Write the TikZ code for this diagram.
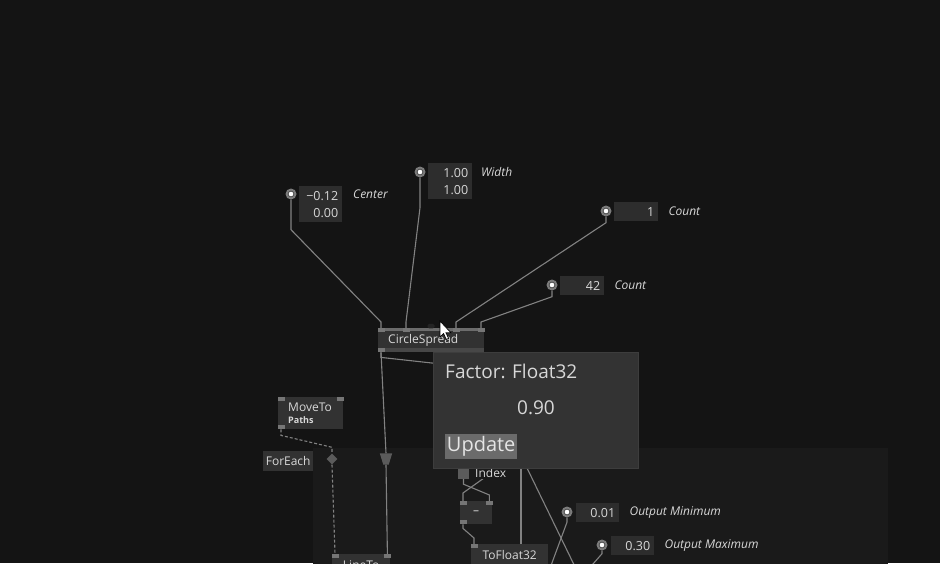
\documentclass[tikz,border=0pt]{standalone}
\usepackage{fontspec}
\setmainfont{Open Sans}
\usetikzlibrary{shapes.geometric,positioning}
\definecolor{bgc}{HTML}{141414}
\definecolor{regc}{HTML}{1A1A1A}
\definecolor{boxc}{HTML}{323232}
\definecolor{stripc}{HTML}{474747}
\definecolor{valc}{HTML}{2D2D2D}
\definecolor{wirec}{HTML}{828282}
\definecolor{portc}{HTML}{767676}
\definecolor{pinc}{HTML}{7C7C7C}
\definecolor{txtc}{HTML}{D8D8D8}
\definecolor{tipc}{HTML}{333333}
\definecolor{tipb}{HTML}{3D3D3D}
\definecolor{btnc}{HTML}{6B6B6B}
\pgfdeclarelayer{back}
\pgfdeclarelayer{wires}
\pgfsetlayers{back,wires,main}

\begin{document}
\begin{tikzpicture}[x=1pt,y=-1pt,
    every node/.style={text=txtc,font=\fontsize{12}{14}\selectfont},
    opbox/.style={rectangle,fill=boxc,inner sep=0,align=left},
    valbox/.style={rectangle,fill=valc,inner xsep=4,inner ysep=0,align=right,
        anchor=north west,font=\fontsize{12.5}{17}\selectfont},
    inpin/.style={circle,fill=pinc,minimum size=11,inner sep=0,
        path picture={\fill[black!70] (path picture bounding box.center) circle (3.3pt);
                      \fill[white] (path picture bounding box.center) circle (2.3pt);}},
    lbl/.style={anchor=west,inner sep=0,font=\fontsize{12}{14}\selectfont\itshape},
    port/.style={rectangle,fill=portc,minimum width=7,minimum height=4,inner sep=0},
    wire/.style={draw=wirec,line width=1.1},
    dwire/.style={wire,dash pattern=on 3pt off 2pt}]
    \useasboundingbox (0,0) rectangle (940,563);
    \begin{pgfonlayer}{back}
        \fill[bgc] (0,0) rectangle (940,563);
        \fill[regc] (313,448) rectangle (888,575);
    \end{pgfonlayer}
    % inputs
    \node[inpin]  (cpin) at (291,194) {};
    \node[valbox,text width=35,minimum height=36] (cval) at (299,186) {−0.12\\0.00};
    \node[lbl]    at (353,194) {Center};
    \node[inpin]  (wpin) at (420,172) {};
    \node[valbox,text width=36,minimum height=36] (wval) at (428,163) {1.00\\1.00};
    \node[lbl]    at (481,172) {Width};
    \node[inpin]  (npin) at (606,211) {};
    \node[valbox,text width=36,minimum height=19] (nval) at (614,202) {1};
    \node[lbl]    [right=10pt of nval] {Count};
    \node[inpin]  (spin) at (552,285) {};
    \node[valbox,text width=36,minimum height=19] (sval) at (560,276) {42};
    \node[lbl]    [right=10pt of sval] {Count};
    % circle spread
    \node[opbox,text width=86,inner xsep=10,minimum height=24,anchor=north west] (spread) at (378,328) {CircleSpread};
    \fill[stripc!80] (spread.north west) rectangle ++(106,3);
    \fill[stripc] (spread.south west) rectangle ++(106,-4);
    \foreach \px/\nm in {3/p1,28/p2,78/p4,103/p5}
        \node[port,anchor=north] (\nm) at ([xshift=\px]spread.north west) {};
    \node[port,fill=portc!160,rounded corners=1.5,minimum height=4.5,anchor=south] (p3) at ([xshift=53,yshift=-0.5]spread.north west) {};
    \node[port,anchor=south] (sout) at ([xshift=3]spread.south west) {};
    % foreach
    \node[opbox,minimum width=65,minimum height=32,inner xsep=10,text width=45,anchor=north west,
        font=\fontsize{12}{12}\selectfont] (move) at (278,397) {MoveTo\\{\fontsize{9}{10}\selectfont\bfseries Paths}};
    \node[port,anchor=north] (mtl) at ([xshift=3]move.north west) {};
    \node[port,anchor=north] (mtr) at ([xshift=-3]move.north east) {};
    \node[port,anchor=south] (mbl) at ([xshift=3]move.south west) {};
    \node[opbox,minimum width=50,minimum height=20,anchor=north west] (fe) at (263,451) {ForEach};
    \node[diamond,fill=portc!120,minimum size=11,inner sep=0] (dia) at (332,459) {};
    \node[rectangle,minimum width=12,minimum height=11,inner sep=0] (trap) at (386,459) {};
    \fill[portc!120] (trap.north west) -- (trap.north east) -- ([xshift=-3.5]trap.south east)
        -- ([xshift=3.5]trap.south west) -- cycle;
    \node[opbox,minimum width=58,minimum height=22,anchor=north west] (lineto) at (332,554) {LineTo};
    \node[port,anchor=north] (ltl) at ([xshift=3]lineto.north west) {};
    \node[port,anchor=north] (ltr) at ([xshift=-3]lineto.north east) {};
    \node[rectangle,fill=portc!120,minimum size=11,inner sep=0] (idx) at (463.5,473.5) {};
    \node[anchor=west,fill=regc,inner sep=1] (idxl) at (474,473) {Index};
    \node[opbox,minimum width=32,minimum height=23,anchor=north west] (minus) at (460,501) {–};
    \node[port,anchor=north] (ntl) at ([xshift=3]minus.north west) {};
    \node[port,anchor=north] (ntr) at ([xshift=-3]minus.north east) {};
    \node[port,anchor=south] (nbl) at ([xshift=3]minus.south west) {};
    \node[opbox,minimum width=77,minimum height=21,anchor=north west] (tofl) at (471,544) {ToFloat32};
    \node[port,anchor=north] (tfp) at ([xshift=3]tofl.north west) {};
    \node[inpin]  (minpin) at (567,512) {};
    \node[valbox,text width=35,minimum height=19] (minval) at (576,503) {0.01};
    \node[lbl]    [right=10pt of minval] {Output Minimum};
    \node[inpin]  (maxpin) at (602,545) {};
    \node[valbox,text width=35,minimum height=19] (maxval) at (611,536) {0.30};
    \node[lbl]    [right=10pt of maxval] {Output Maximum};
    \coordinate (hid1) at (527,468);
    \coordinate (hid2) at (505,463);
    \coordinate (hid3) at (521,440);
    \coordinate (tail1) at (579,575);
    \coordinate (tail2) at (547.5,575);
    \coordinate (tail3) at (586,572);
    \begin{pgfonlayer}{wires}
        \draw[wire] (cpin.south) -- ++(0,30) -- ([yshift=6]p1.north) -- (p1.north);
        \draw[wire] (wpin.south) -- ++(0,30) -- ([yshift=6]p2.north) -- (p2.north);
        \draw[wire] (npin.south) -- ++(0,6) -- ([yshift=6]p4.north) -- (p4.north);
        \draw[wire] (spin.south) -- ++(0,6) -- ([yshift=6]p5.north) -- (p5.north);
        \draw[wire] (sout.south) -- (trap.north);
        \draw[wire] (trap.south) -- (ltr.north);
        \draw[wire] (sout.south) -- ++(0,5) -- (450,365) -- (hid1) -- (tail1);
        \draw[dwire] (mbl.south) -- ++(0,6) -- ([yshift=6]dia.north) -- (dia.north);
        \draw[dwire] (dia.south) -- (ltl.north);
        \draw[wire] (idx.south) -- ++(0,5) -- ([yshift=6]ntr.north) -- (ntr.north);
        \draw[wire] (hid2) -- ([yshift=8]ntl.north) -- (ntl.north);
        \draw[wire] (nbl.south) -- ++(0,4) -- ([yshift=6]tfp.north) -- (tfp.north);
        \draw[wire] (hid3) -- (hid3 |- tofl.north);
        \draw[wire] (minpin.south) -- ++(0,4.5) -- (tail2);
        \draw[wire] (maxpin.south) -- ++(0,3) -- (tail3);
    \end{pgfonlayer}
    % tooltip
    \node[rectangle,fill=tipc,draw=tipb,minimum width=205,minimum height=116,anchor=north west] (tip) at (433,352) {};
    \node[anchor=west,inner sep=0,font=\fontsize{19}{22}\selectfont] (tiptitle) at (445,371) {Factor: Float32};
    \node[font=\fontsize{19}{22}\selectfont] (tipval) at (536,408) {0.90};
    \node[fill=btnc,minimum width=72,minimum height=25,inner sep=0,anchor=north west,
        text=white!90!black,font=\fontsize{20}{22}\selectfont] (btn) at (445,434) {Update};
    % pointer
    \fill[white,draw=black,line width=0.7] (440,321) -- (440,337) -- (443.6,333.6) -- (446.2,339.4)
        -- (448.6,338.4) -- (446,332.8) -- (451,332.8) -- cycle;
\end{tikzpicture}
\end{document}
